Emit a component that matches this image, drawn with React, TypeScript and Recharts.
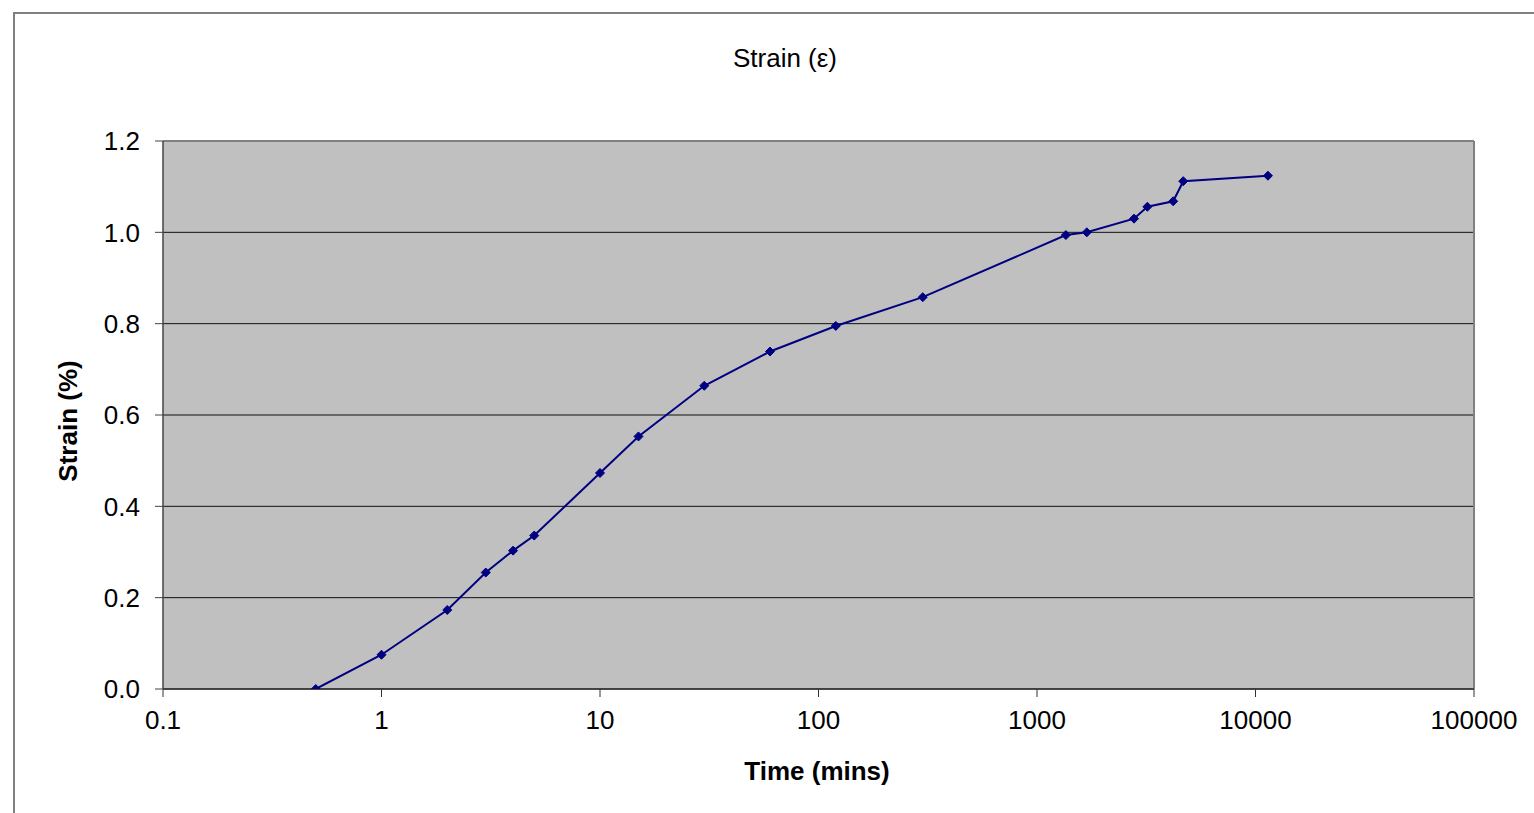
import React from "react";
import { LineChart, Line, XAxis, YAxis, CartesianGrid, ReferenceLine } from "recharts";

const timeMins = [0.5, 1, 2, 3, 4, 5, 10, 15, 30, 60, 120, 300, 1356, 1690, 2780, 3200, 4200, 4670, 11400];
const strainPct = [0, 0.075, 0.173, 0.255, 0.303, 0.336, 0.473, 0.553, 0.664, 0.739, 0.795, 0.858, 0.994, 1.0, 1.03, 1.056, 1.068, 1.112, 1.124];
const xTicks = [0.1, 1, 10, 100, 1000, 10000, 100000];
const yTicks = [0, 0.2, 0.4, 0.6, 0.8, 1.0, 1.2];

const titleText = "Strain (\u03b5)";
const xTitle = "Time (mins)";
const yTitle = "Strain (%)";

const data = timeMins.map((t, i) => ({ t, s: strainPct[i] }));

const FONT = "'Liberation Sans', Arial, sans-serif";
const NAVY = "#000080";

const Diamond = (props: any) => {
  const { cx, cy, index } = props;
  if (cx == null || cy == null) return <g key={`e${index}`} />;
  const r = 4.5;
  return (
    <path
      key={`d${index}`}
      d={`M${cx},${cy - r}L${cx + r},${cy}L${cx},${cy + r}L${cx - r},${cy}Z`}
      fill={NAVY}
      stroke={NAVY}
      strokeWidth={1}
    />
  );
};

export default function App() {
  const tickStyle = { fill: "#000", fontSize: 26, fontFamily: FONT };
  return (
    <div
      style={{
        position: "fixed",
        left: 0,
        top: 0,
        width: 1534,
        height: 813,
        overflow: "hidden",
        background: "#fff",
        fontFamily: FONT,
      }}
    >
      <div
        style={{
          position: "absolute",
          left: 13,
          top: 12,
          width: 1700,
          height: 1000,
          border: "2px solid #808080",
          boxSizing: "border-box",
        }}
      />
      <div style={{ position: "absolute", left: 0, top: 0 }}>
        <LineChart
          width={1534}
          height={813}
          data={data}
          margin={{ top: 141, right: 60, left: 0, bottom: 64 }}
        >
          <CartesianGrid vertical={false} stroke="#111" strokeWidth={1} fill="#C0C0C0" fillOpacity={1} />
          <XAxis
            dataKey="t"
            type="number"
            scale="log"
            domain={[0.1, 100000]}
            ticks={xTicks}
            allowDataOverflow
            height={60}
            tickSize={8}
            tickMargin={14}
            tick={tickStyle}
            tickFormatter={(v: number) => String(v)}
            axisLine={{ stroke: "#333", strokeWidth: 1.5 }}
            tickLine={{ stroke: "#333" }}
            interval={0}
          />
          <YAxis
            dataKey="s"
            type="number"
            domain={[0, 1.2]}
            ticks={yTicks}
            allowDataOverflow
            width={163}
            tickSize={8}
            tickMargin={15}
            tick={tickStyle}
            tickFormatter={(v: number) => v.toFixed(1)}
            axisLine={{ stroke: "#444", strokeWidth: 1.5 }}
            tickLine={{ stroke: "#444" }}
            interval={0}
          />
          <ReferenceLine y={1.2} stroke="#808080" strokeWidth={2} ifOverflow="extendDomain" />
          <ReferenceLine x={100000} stroke="#808080" strokeWidth={2} ifOverflow="extendDomain" />
          <Line
            dataKey="s"
            stroke={NAVY}
            strokeWidth={2}
            dot={Diamond}
            activeDot={false}
            isAnimationActive={false}
            type="linear"
          />
        </LineChart>
      </div>
      <div
        style={{
          position: "absolute",
          left: 785,
          top: 58,
          transform: "translate(-50%, -50%)",
          fontSize: 26,
          lineHeight: 1,
          whiteSpace: "nowrap",
          color: "#000",
        }}
      >
        {titleText}
      </div>
      <div
        style={{
          position: "absolute",
          left: 817,
          top: 771,
          transform: "translate(-50%, -50%)",
          fontSize: 26,
          fontWeight: "bold",
          lineHeight: 1,
          whiteSpace: "nowrap",
          color: "#000",
        }}
      >
        {xTitle}
      </div>
      <div
        style={{
          position: "absolute",
          left: 68,
          top: 421,
          transform: "translate(-50%, -50%) rotate(-90deg)",
          fontSize: 26,
          fontWeight: "bold",
          lineHeight: 1,
          whiteSpace: "nowrap",
          color: "#000",
        }}
      >
        {yTitle}
      </div>
    </div>
  );
}
